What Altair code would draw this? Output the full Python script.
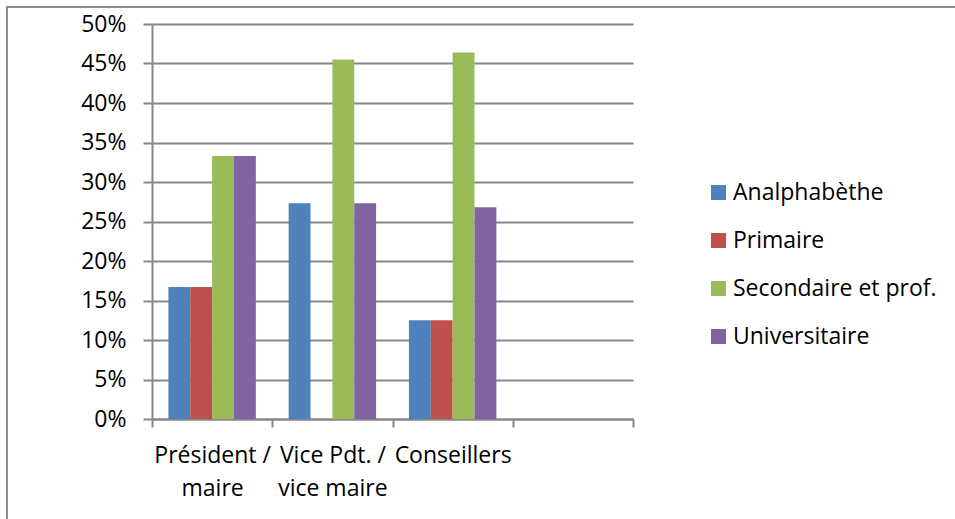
import altair as alt
import pandas as pd

roles = ["Président / maire", "Vice Pdt. / vice maire", "Conseillers"]
x_domain = roles + [""]
levels = ["Analphabèthe", "Primaire", "Secondaire et prof.", "Universitaire"]
colors = ["#4F81BD", "#C0504D", "#9BBB59", "#8064A2"]

analphabete = [0.167, 0.273, 0.125]
primaire = [0.167, 0.0, 0.125]
secondaire = [0.333, 0.455, 0.464]
universitaire = [0.333, 0.273, 0.268]

y_ticks = [0, 0.05, 0.10, 0.15, 0.20, 0.25, 0.30, 0.35, 0.40, 0.45, 0.50]

rows = []
for series, vals in zip(levels, [analphabete, primaire, secondaire, universitaire]):
    for r, v in zip(roles, vals):
        rows.append({"role": r, "level": series, "value": v})
df = pd.DataFrame(rows)

FONT = "Open Sans"
FS = 23
GRID = "#878787"

bars = alt.Chart(df).mark_bar(stroke=None).encode(
    x=alt.X(
        "role:N",
        scale=alt.Scale(domain=x_domain, paddingInner=0, paddingOuter=0),
        axis=alt.Axis(
            title=None,
            labelAngle=0,
            tickBand="extent",
            tickSize=8,
            tickColor=GRID,
            tickWidth=2,
            domainColor=GRID,
            domainWidth=2,
            grid=False,
            labelPadding=17,
            labelLineHeight=33,
            labelLimit=0,
            labelExpr="split(replace(datum.label, '/ ', '/\\n'), '\\n')",
        ),
        sort=x_domain,
    ),
    xOffset=alt.XOffset(
        "level:N",
        scale=alt.Scale(domain=levels, paddingInner=0, paddingOuter=0.75),
    ),
    y=alt.Y(
        "value:Q",
        scale=alt.Scale(domain=[0, 0.5]),
        axis=alt.Axis(
            title=None,
            format=".0%",
            values=y_ticks,
            tickSize=9,
            tickColor=GRID,
            tickWidth=2,
            domainColor=GRID,
            domainWidth=2,
            gridColor=GRID,
            gridWidth=2,
            labelPadding=17,
        ),
    ),
    color=alt.Color(
        "level:N",
        scale=alt.Scale(domain=levels, range=colors),
        legend=alt.Legend(
            title=None,
            orient="none",
            legendX=555,
            legendY=157,
            symbolType="square",
            symbolSize=225,
            symbolStrokeWidth=0,
            labelOffset=3,
            rowPadding=24,
            labelLimit=0,
            labelFont=FONT,
            labelFontSize=FS,
            labelColor="#000000",
        ),
    ),
)

frame = alt.Chart(df).mark_rect(fill=None, stroke="#8c8c8c", strokeWidth=2).encode(
    x=alt.value(-145), x2=alt.value(900), y=alt.value(-17), y2=alt.value(600)
)

chart = alt.layer(frame, bars).properties(
    width=481,
    height=395,
    autosize=alt.AutoSizeParams(type="none"),
    padding={"left": 152, "top": 24, "right": 322, "bottom": 100},
    background="white",
).configure_view(stroke=None).configure_axis(
    labelFont=FONT, labelFontSize=FS, labelColor="#000000"
)

chart.save("out.html", embed_options={"renderer": "svg", "actions": False})
